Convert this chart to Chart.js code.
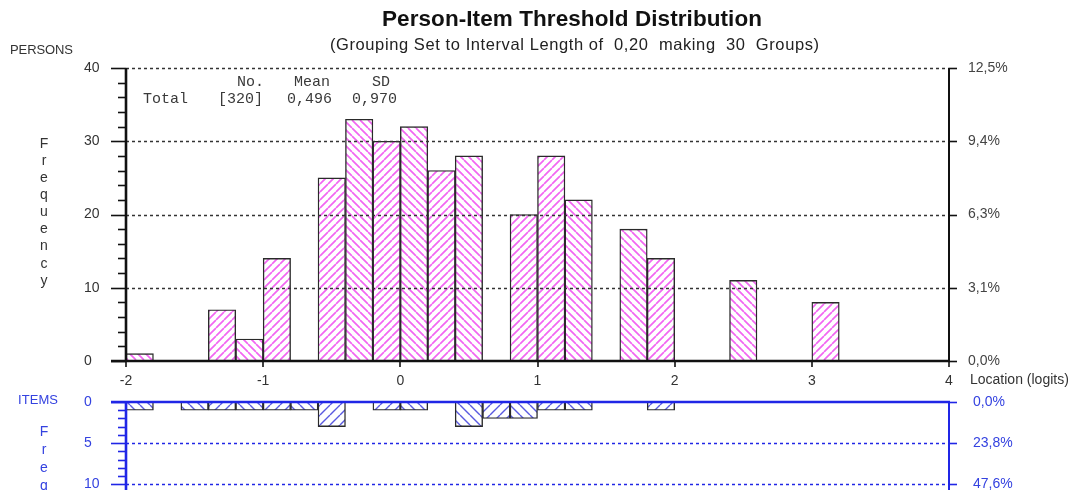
<!DOCTYPE html>
<html><head><meta charset="utf-8">
<script src="https://cdn.jsdelivr.net/npm/chart.js@4.4.0/dist/chart.umd.min.js"></script>
<style>
html,body{margin:0;padding:0;background:#fff;overflow:hidden;width:1075px;height:490px}
#c1{position:absolute;left:0;top:0}
#c2{position:absolute;left:0;top:385px}
</style></head><body>
<canvas id="c1" width="1075" height="395"></canvas>
<canvas id="c2" width="1075" height="190"></canvas>
<script>
// ---------------- data ----------------
const binStarts = [-2.0,-1.8,-1.6,-1.4,-1.2,-1.0,-0.8,-0.6,-0.4,-0.2,0.0,0.2,0.4,0.6,0.8,1.0,1.2,1.4,1.6,1.8,2.0,2.2,2.4,2.6,2.8,3.0,3.2,3.4,3.6,3.8];
const binWidth = 0.2;
const personCounts = [1,0,0,7,3,14,0,25,33,30,32,26,28,0,20,28,22,0,18,14,0,0,11,0,0,8,0,0,0,0];
const itemCounts   = [1,0,1,1,1,1,1,3,0,1,1,0,3,2,2,1,1,0,0,1,0,0,0,0,0,0,0,0,0,0];
const xTicks = [-2,-1,0,1,2,3,4];
const personTicks = [0,10,20,30,40];
const itemTicks = [0,5,10,15,20];
const statHeaders = ['No.','Mean','SD'];
const statRowLabel = 'Total';
const statValues = ['[320]','0,496','0,970'];
const titleText = 'Person-Item Threshold Distribution';
const subtitleText = '(Grouping Set to Interval Length of  0,20  making  30  Groups)';

// ---------------- styles ----------------
const FONT = "'Liberation Sans', Arial, sans-serif";
const MONO = "'Liberation Mono', 'Courier New', monospace";
const BLUE = '#2026e6';
const BLUE_TXT = '#3442e0';
const personTotal = personCounts.reduce((a,b)=>a+b,0);
const itemTotal = itemCounts.reduce((a,b)=>a+b,0);
const pct = (v,t)=> (v/t*100).toFixed(1).replace('.',',')+'%';

function hatch(color, size, dir, lw){
  const c=document.createElement('canvas'); c.width=c.height=size;
  const g=c.getContext('2d'); g.fillStyle='#fff'; g.fillRect(0,0,size,size);
  g.strokeStyle=color; g.lineWidth=lw; g.beginPath();
  for(const k of [-size,0,size]){
    if(dir==='\\'){ g.moveTo(k,0); g.lineTo(k+size,size); }
    else { g.moveTo(k,size); g.lineTo(k+size,0); }
  }
  g.stroke();
  return g.createPattern(c,'repeat');
}
const pBack = hatch('#f266f2',8,'\\',1.7), pFwd = hatch('#f266f2',8,'/',1.7);
const iBack = hatch('#5a5ae0',10,'\\',1.4), iFwd = hatch('#5a5ae0',10,'/',1.4);
const personDir = i => (i%2===1 || i===14) ? '/' : '\\';
const itemDir = i => (i%2===1) ? '/' : '\\';

function line(ctx,x1,y1,x2,y2){ctx.beginPath();ctx.moveTo(x1,y1);ctx.lineTo(x2,y2);ctx.stroke();}
function fitText(ctx,text,left,y,target){
  ctx.textAlign='left'; ctx.textBaseline='middle';
  const w = ctx.measureText(text).width;
  if('letterSpacing' in ctx){
    ctx.letterSpacing = ((target-w)/Math.max(1,text.length-1))+'px';
    ctx.fillText(text,left,y);
    ctx.letterSpacing='0px';
  } else {
    ctx.save(); ctx.translate(left,y); ctx.scale(target/w,1); ctx.fillText(text,0,0); ctx.restore();
  }
}
const tickSetter = arr => s => { s.ticks = arr.map(v=>({value:v})); };

// ---------------- top chart ----------------
const topDecor = {
  id:'topDecor',
  afterDatasetsDraw(chart){
    const {ctx, chartArea:a, scales:{x,y}} = chart;
    ctx.save();
    ctx.strokeStyle='#333'; ctx.lineWidth=1.3; ctx.setLineDash([3,3]);
    personTicks.forEach(v=>{ if(v===0) return; const py=Math.round(y.getPixelForValue(v))+0.5; line(ctx,a.left,py,a.right,py); });
    ctx.setLineDash([]);
    ctx.strokeStyle='#111'; ctx.lineWidth=1.6;
    for(let v=0; v<=40; v+=2){ const py=Math.round(y.getPixelForValue(v))+0.5; const len=(v%10===0)?15:8; line(ctx,a.left-len,py,a.left,py); }
    personTicks.forEach(v=>{ const py=Math.round(y.getPixelForValue(v))+0.5; line(ctx,a.right,py,a.right+8,py); });
    xTicks.forEach(v=>{ const px=Math.round(x.getPixelForValue(v)); line(ctx,px,a.bottom,px,a.bottom+6); });
    ctx.lineWidth=2.6;
    line(ctx,a.left,a.top,a.left,a.bottom+1);
    line(ctx,a.left-15,a.bottom,a.right+1,a.bottom);
    ctx.lineWidth=2;
    line(ctx,a.right,a.top,a.right,a.bottom);
    ctx.restore();
  },
  afterDraw(chart){
    const ctx = chart.ctx;
    ctx.save();
    ctx.fillStyle='#111';
    ctx.font='bold 22.5px '+FONT; fitText(ctx,titleText,382,20,380);
    ctx.fillStyle='#222';
    ctx.font='16.5px '+FONT; fitText(ctx,subtitleText,330,45,489);
    ctx.fillStyle='#333';
    ctx.font='13px '+FONT; fitText(ctx,'PERSONS',10,50,63);
    ctx.font='14px '+FONT; ctx.textAlign='center'; ctx.textBaseline='middle';
    'Frequency'.split('').forEach((ch,i)=> ctx.fillText(ch,44,144+i*17.1));
    ctx.textAlign='left';
    ctx.font='14px '+FONT; ctx.fillText('Location (logits)',970,380);
    ctx.font='15px '+MONO; ctx.fillStyle='#3a3a3a';
    const hx=[237,294,372]; statHeaders.forEach((t,i)=>ctx.fillText(t,hx[i],82));
    ctx.fillText(statRowLabel,143,99);
    const vx=[218,287,352]; statValues.forEach((t,i)=>ctx.fillText(t,vx[i],99));
    ctx.restore();
  }
};

new Chart(document.getElementById('c1'),{
  type:'bar',
  data:{datasets:[{
    data: binStarts.map((b,i)=>({x:b+binWidth/2, y:personCounts[i]})),
    backgroundColor: c => personDir(c.dataIndex)==='/' ? pFwd : pBack,
    borderColor:'#2a2a2a', borderWidth:1.4,
    barPercentage:1, categoryPercentage:1
  }]},
  options:{
    responsive:false, animation:false, devicePixelRatio:1,
    layout:{padding:{left:84,top:68,right:0,bottom:0}},
    plugins:{legend:{display:false},tooltip:{enabled:false}},
    scales:{
      x:{type:'linear',min:-2,max:4,offset:false,afterBuildTicks:tickSetter(xTicks),
         grid:{display:false,drawTicks:false},border:{display:false},
         ticks:{padding:12,color:'#333',font:{family:FONT,size:14},callback:v=>String(v),maxRotation:0,autoSkip:false},
         afterFit:s=>{s.height=34;}},
      y:{position:'left',min:0,max:40,afterBuildTicks:tickSetter(personTicks),
         grid:{display:false,drawTicks:false},border:{display:false},
         ticks:{crossAlign:'far',padding:0,color:'#333',font:{family:FONT,size:14},autoSkip:false},
         afterFit:s=>{s.width=42;}},
      y2:{position:'right',min:0,max:40,afterBuildTicks:tickSetter(personTicks),
         grid:{display:false,drawTicks:true,tickLength:19},border:{display:false},
         ticks:{padding:0,color:'#444',font:{family:FONT,size:14},callback:v=>pct(v,personTotal),autoSkip:false},
         afterFit:s=>{s.width=126;}}
    }
  },
  plugins:[topDecor]
});

// ---------------- bottom chart ----------------
const botDecor = {
  id:'botDecor',
  afterDatasetsDraw(chart){
    const {ctx, chartArea:a, scales:{y}} = chart;
    ctx.save();
    ctx.strokeStyle=BLUE; ctx.lineWidth=1.3; ctx.setLineDash([3,3]);
    itemTicks.forEach(v=>{ if(v===0) return; const py=Math.round(y.getPixelForValue(v))+0.5; line(ctx,a.left,py,a.right,py); });
    ctx.setLineDash([]);
    ctx.lineWidth=1.6;
    for(let v=0; v<=20; v+=1){ const py=Math.round(y.getPixelForValue(v))+0.5; const len=(v%5===0)?15:8; line(ctx,a.left-len,py,a.left,py); }
    itemTicks.forEach(v=>{ const py=Math.round(y.getPixelForValue(v))+0.5; line(ctx,a.right,py,a.right+8,py); });
    ctx.lineWidth=2.6;
    line(ctx,a.left,a.top,a.left,a.bottom);
    line(ctx,a.left-15,a.top,a.right+1,a.top);
    ctx.lineWidth=2;
    line(ctx,a.right,a.top,a.right,a.bottom);
    ctx.restore();
  },
  afterDraw(chart){
    const ctx=chart.ctx;
    ctx.save();
    ctx.fillStyle=BLUE_TXT;
    ctx.font='13px '+FONT; fitText(ctx,'ITEMS',18,15,40);
    ctx.font='14px '+FONT; ctx.textAlign='center'; ctx.textBaseline='middle';
    'Freq'.split('').forEach((ch,i)=> ctx.fillText(ch,44,47+i*18));
    ctx.restore();
  }
};

new Chart(document.getElementById('c2'),{
  type:'bar',
  data:{datasets:[{
    data: binStarts.map((b,i)=>({x:b+binWidth/2, y:itemCounts[i]})),
    backgroundColor: c => itemDir(c.dataIndex)==='/' ? iFwd : iBack,
    borderColor:'#2a2a2a', borderWidth:1.4,
    barPercentage:1, categoryPercentage:1
  }]},
  options:{
    responsive:false, animation:false, devicePixelRatio:1,
    layout:{padding:{left:84,top:17,right:0,bottom:0}},
    plugins:{legend:{display:false},tooltip:{enabled:false}},
    scales:{
      x:{type:'linear',min:-2,max:4,offset:false,display:false},
      y:{position:'left',min:0,max:20,reverse:true,afterBuildTicks:tickSetter(itemTicks),
         grid:{display:false,drawTicks:false},border:{display:false},
         ticks:{crossAlign:'far',padding:0,color:BLUE_TXT,font:{family:FONT,size:14},autoSkip:false},
         afterFit:s=>{s.width=42;}},
      y2:{position:'right',min:0,max:20,reverse:true,afterBuildTicks:tickSetter(itemTicks),
         grid:{display:false,drawTicks:true,tickLength:24},border:{display:false},
         ticks:{padding:0,color:BLUE_TXT,font:{family:FONT,size:14},callback:v=>pct(v,itemTotal),autoSkip:false},
         afterFit:s=>{s.width=126;}}
    }
  },
  plugins:[botDecor]
});
</script>
</body></html>
